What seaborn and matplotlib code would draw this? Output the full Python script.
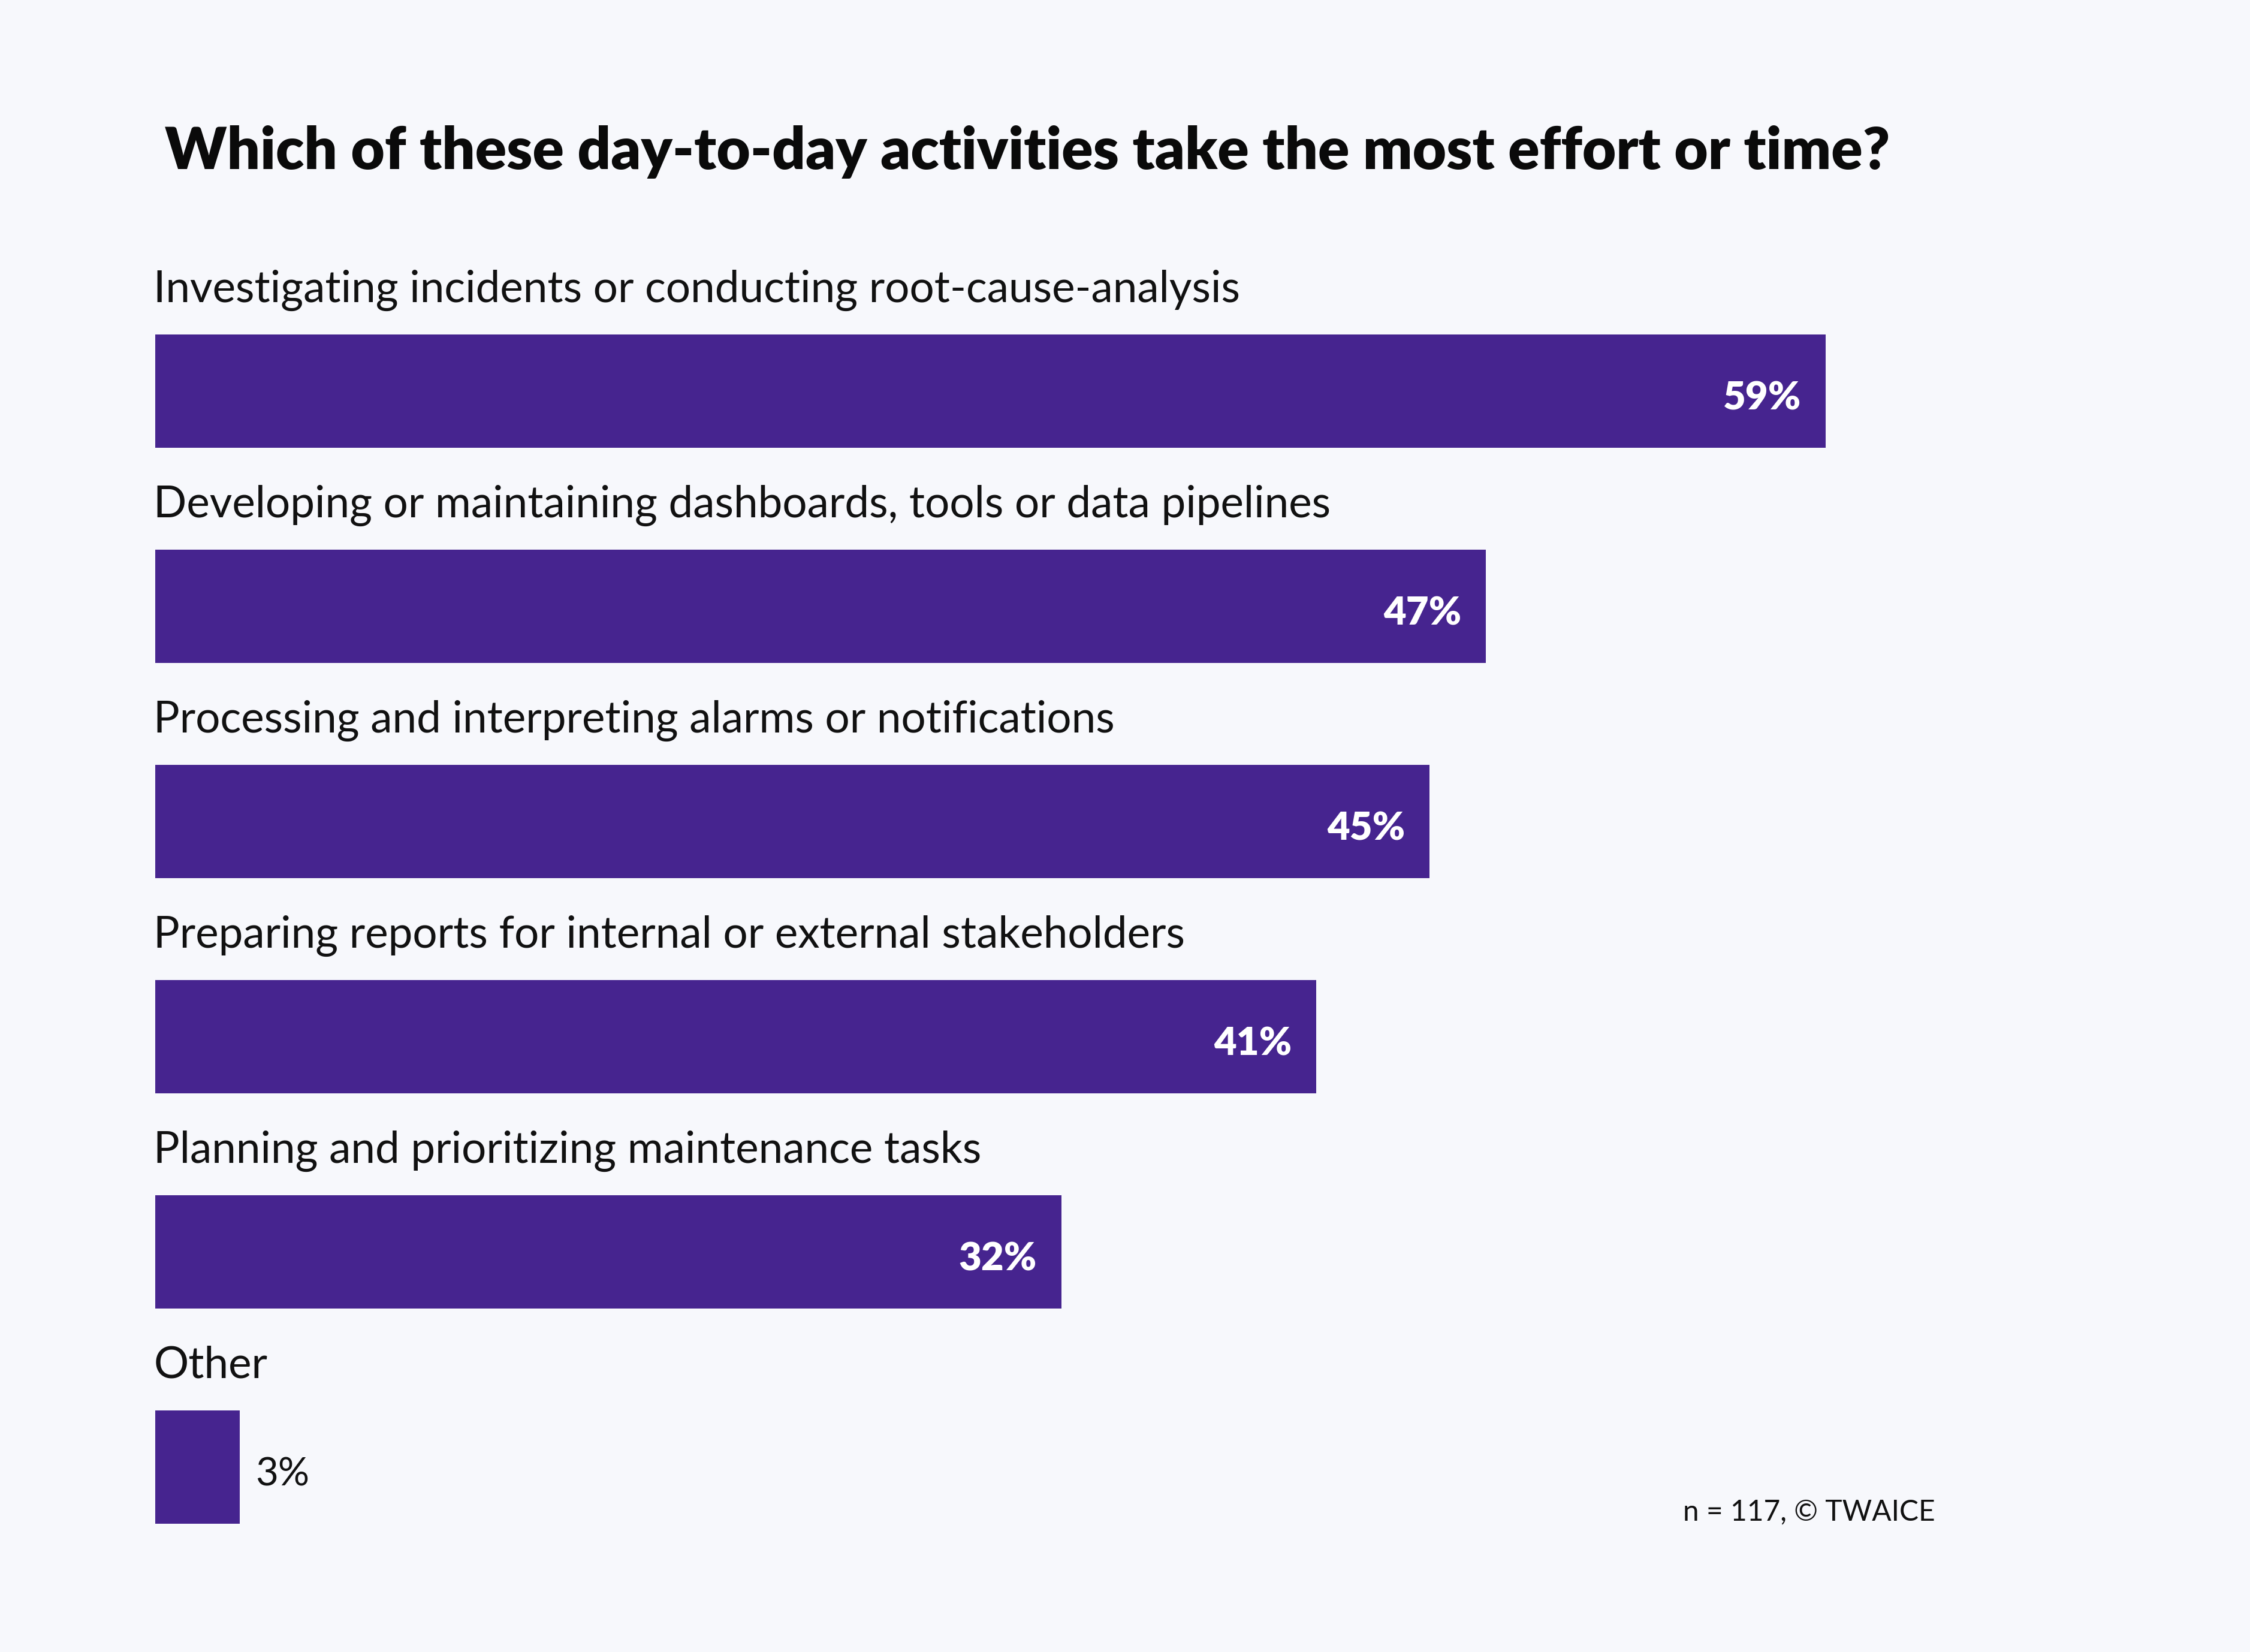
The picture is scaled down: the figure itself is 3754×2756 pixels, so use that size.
import matplotlib
matplotlib.use("Agg")
import matplotlib.pyplot as plt
import seaborn as sns
import pandas as pd

categories = [
    "Investigating incidents or conducting root-cause-analysis",
    "Developing or maintaining dashboards, tools or data pipelines",
    "Processing and interpreting alarms or notifications",
    "Preparing reports for internal or external stakeholders",
    "Planning and prioritizing maintenance tasks",
    "Other",
]
values = [59, 47, 45, 41, 32, 3]
value_labels = ["59%", "47%", "45%", "41%", "32%", "3%"]
title = "Which of these day-to-day activities take the most effort or time?"
footer = "n = 117, \u00a9 TWAICE"

BG = "#f7f8fc"
BAR = "#46248f"
FONT = ["Lato", "DejaVu Sans"]

sns.set_theme(style="white")
plt.rcParams["font.family"] = FONT

df = pd.DataFrame({"category": categories, "value": values})

fig = plt.figure(figsize=(37.55, 27.56), dpi=100, facecolor=BG)
ax = fig.add_axes([0.0689, 0.0, 0.9311, 1.0])
ax.set_facecolor(BG)

sns.barplot(data=df, x="value", y="category", orient="h", color=BAR,
            width=0.5265, saturation=1, ax=ax, linewidth=0)

ax.set_xlim(0, 74.0)
ax.set_ylim(5.859, -1.818)
ax.axis("off")

for i, (cat, v, lab) in enumerate(zip(categories, values, value_labels)):
    ax.text(-0.05, i - 0.415, cat, ha="left", va="baseline", fontsize=52.5,
            color="#111111", family=FONT)
    if v >= 10:
        ax.text(v - 0.86, i + 0.085, lab, ha="right", va="baseline",
                fontsize=47, fontweight="heavy", color="white", family=FONT)
    else:
        ax.text(v + 0.55, i + 0.085, lab, ha="left", va="baseline",
                fontsize=47, color="#111111", family=FONT)

fig.text(0.0733, 0.8975, title, ha="left", va="baseline", fontsize=70,
         fontweight="heavy", color="#0a0a0a", family=FONT)
fig.text(0.8597, 0.0798, footer, ha="right", va="baseline", fontsize=34.5,
         color="#111111", family=FONT)

fig.savefig("out.png", dpi=100, facecolor=BG)
